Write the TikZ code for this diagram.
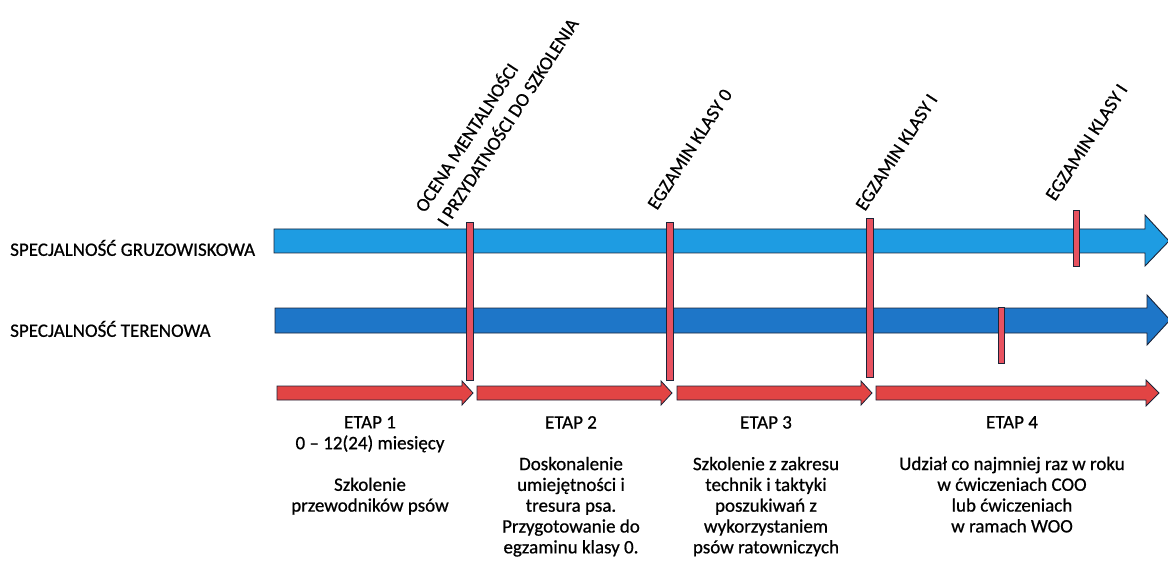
\documentclass[tikz,border=0pt]{standalone}
\usepackage{fontspec}
\setmainfont{Carlito}[FakeBold=0.7]
\definecolor{lblue}{RGB}{30,156,226}
\definecolor{dblue}{RGB}{30,118,200}
\definecolor{arrred}{RGB}{226,68,68}
\definecolor{barred}{RGB}{232,82,96}
\definecolor{edge}{RGB}{28,36,56}
\begin{document}
\begin{tikzpicture}[x=1bp,y=-1bp,
  bigarrow/.style={draw=edge,line width=0.9bp,line join=miter},
  smallarrow/.style={draw=edge,line width=0.8bp,fill=arrred},
  barstyle/.style={draw=edge,line width=0.8bp,fill=barred},
  tilted/.style={rotate=57,anchor=base west,inner sep=0pt,font=\fontsize{19bp}{22bp}\selectfont},
  rowlabel/.style={anchor=west,inner sep=0pt,font=\fontsize{19bp}{22bp}\selectfont},
  stagetext/.style={anchor=north,inner sep=0pt,align=center,font=\fontsize{19bp}{20.8bp}\selectfont}]
\useasboundingbox (0,0) rectangle (1168,565);
% big arrows
\path[bigarrow,fill=lblue] (274,229) -- (1145,229) -- (1145,215) -- (1169,241) -- (1145,266) -- (1145,253) -- (274,253) -- cycle;
\path[bigarrow,fill=dblue] (275,308) -- (1147,308) -- (1147,295) -- (1170,320) -- (1147,345) -- (1147,333) -- (275,333) -- cycle;
% red stage arrows
\path[smallarrow] (277,386) -- (462,386) -- (462,381) -- (473,393) -- (462,405) -- (462,400) -- (277,400) -- cycle;
\path[smallarrow] (477,386) -- (661,386) -- (661,381) -- (672,393) -- (661,405) -- (661,400) -- (477,400) -- cycle;
\path[smallarrow] (677,386) -- (861,386) -- (861,381) -- (872,393) -- (861,405) -- (861,400) -- (677,400) -- cycle;
\path[smallarrow] (876,386) -- (1146,386) -- (1146,380) -- (1159,393) -- (1146,406) -- (1146,400) -- (876,400) -- cycle;
% vertical bars
\path[barstyle] (466,222) rectangle (473,380);
\path[barstyle] (666,222) rectangle (673,380);
\path[barstyle] (866,218) rectangle (873,377);
\path[barstyle] (1073,210) rectangle (1079,266);
\path[barstyle] (998,307) rectangle (1004,363);
% row labels
\node[rowlabel] (gruz) at (10,248) {SPECJALNOŚĆ GRUZOWISKOWA};
\node[rowlabel] (teren) at (10,329) {SPECJALNOŚĆ TERENOWA};
% tilted labels
\node[rotate=57,anchor=south west,inner sep=0pt,align=left,font=\fontsize{19bp}{26bp}\selectfont] (ocena) at (447,228) {OCENA MENTALNOŚCI\\I PRZYDATNOŚCI DO SZKOLENIA};
\node[tilted] (egz0) at (657,211) {EGZAMIN KLASY 0};
\node[tilted] (egz1) at (865,212) {EGZAMIN KLASY I};
\node[tilted] (egz2) at (1055,202) {EGZAMIN KLASY I};
% stage texts
\node[stagetext] (etap1) at (370,416) {ETAP 1\\0 – 12(24) miesięcy\\[20.8bp]Szkolenie\\przewodników psów};
\node[stagetext] (etap2) at (571,416) {ETAP 2\\[20.8bp]Doskonalenie\\umiejętności i\\tresura psa.\\Przygotowanie do\\egzaminu klasy 0.};
\node[stagetext] (etap3) at (766,416) {ETAP 3\\[20.8bp]Szkolenie z zakresu\\technik i taktyki\\poszukiwań z\\wykorzystaniem\\psów ratowniczych};
\node[stagetext] (etap4) at (1012,416) {ETAP 4\\[20.8bp]Udział co najmniej raz w roku\\w ćwiczeniach COO\\lub ćwiczeniach\\w ramach WOO};
\end{tikzpicture}
\end{document}
